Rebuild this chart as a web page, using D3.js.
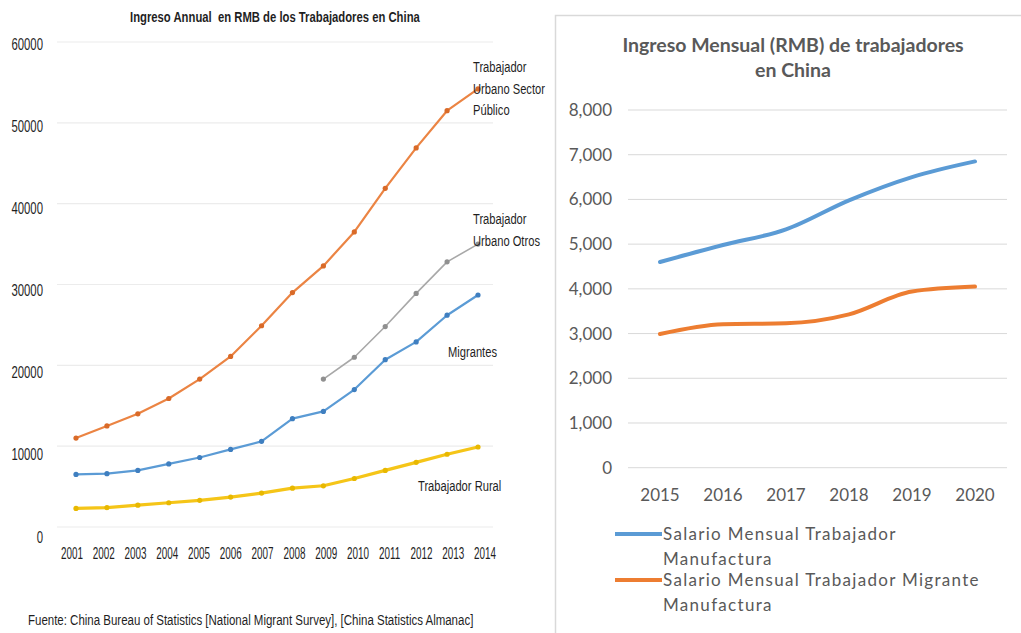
<!DOCTYPE html>
<html>
<head>
<meta charset="utf-8">
<script src="https://cdn.jsdelivr.net/npm/d3@7"></script>
<style>
  html, body { margin: 0; padding: 0; background: #fff; }
  svg { display: block; }
  .narrow { font-family: "Liberation Sans", Arial, sans-serif; }
  .cal { font-family: Lato, "Open Sans", sans-serif; }
</style>
</head>
<body>
<svg id="chart" width="1021" height="633"></svg>
<script>
// ---------- Left chart data (annual income, RMB) ----------
const years = [2001, 2002, 2003, 2004, 2005, 2006, 2007, 2008, 2009, 2010, 2011, 2012, 2013, 2014];
const urbanPublic = [11000, 12500, 14000, 15900, 18300, 21100, 24900, 29000, 32300, 36500, 41900, 46900, 51500, 54200];
const urbanOthers = [null, null, null, null, null, null, null, null, 18300, 21000, 24800, 28900, 32800, 35000];
const migrants = [6500, 6600, 7000, 7800, 8600, 9600, 10600, 13400, 14300, 17000, 20700, 22900, 26200, 28700];
const rural = [2300, 2400, 2700, 3000, 3300, 3700, 4200, 4800, 5100, 6000, 7000, 8000, 9000, 9900];
const leftTicks = [0, 10000, 20000, 30000, 40000, 50000, 60000];
const leftTitle = "Ingreso Annual  en RMB de los Trabajadores en China";
const sourceText = "Fuente: China Bureau of Statistics [National Migrant Survey], [China Statistics Almanac]";

// ---------- Right chart data (monthly income, RMB) ----------
const years2 = [2015, 2016, 2017, 2018, 2019, 2020];
const manufWage = [4600, 4980, 5330, 5980, 6500, 6850];
const migrantManufWage = [2990, 3210, 3230, 3430, 3940, 4050];
const rightTicks = [0, 1000, 2000, 3000, 4000, 5000, 6000, 7000, 8000];
const rightTitle = ["Ingreso Mensual (RMB) de trabajadores", "en China"];
const legendLabels = [
  ["Salario Mensual Trabajador", "Manufactura"],
  ["Salario Mensual Trabajador Migrante", "Manufactura"]
];

const svg = d3.select("#chart");

// condensed text helper (Arial-Narrow look)
function ntext(g, x, y, t, size, sx, anchor) {
  return g.append("text")
    .attr("transform", `translate(${x},${y}) scale(${sx},1)`)
    .attr("dy", "0.35em").attr("font-size", size)
    .attr("text-anchor", anchor || "start").attr("fill", "#1f1f1f")
    .attr("xml:space", "preserve").text(t);
}
function fitText(el, x, y, targetW) {
  const w = el.node().getComputedTextLength();
  el.attr("transform", `translate(${x},${y}) scale(${targetW / w},1)`);
}

// ================= LEFT CHART =================
const L = svg.append("g").attr("class", "narrow");
const xL = d3.scalePoint().domain(years).range([76, 478]);
const xLlab = d3.scalePoint().domain(years).range([72, 485]);
const yL = d3.scaleLinear().domain([0, 60000]).range([527, 42]);
const yLlab = d3.scaleLinear().domain([0, 60000]).range([537, 44]);

// gridlines
L.append("g").selectAll("line").data(leftTicks).join("line")
  .attr("x1", 57).attr("x2", 493)
  .attr("y1", d => yL(d)).attr("y2", d => yL(d))
  .attr("stroke", "#ececec").attr("stroke-width", 1.2);

// y labels
leftTicks.forEach(d => ntext(L, 43, yLlab(d), String(d), 16, 0.71, "end"));

// x labels
years.forEach(d => ntext(L, xLlab(d), 553, String(d), 16.5, 0.6, "middle"));

// title
const tEl = ntext(L, 130, 17, leftTitle, 15, 1, "start").attr("font-weight", "bold");
fitText(tEl, 130, 17, 290);

// source
const sEl = ntext(L, 28, 620, sourceText, 15.5, 1, "start");
fitText(sEl, 28, 620, 446);

const seriesL = [
  { vals: rural, color: "#F5C518", dot: "#E8B800", w: 3.2 },
  { vals: migrants, color: "#5B9BD5", dot: "#3F7FC0", w: 2.2 },
  { vals: urbanOthers, color: "#A8A8A8", dot: "#909090", w: 1.6 },
  { vals: urbanPublic, color: "#EB8443", dot: "#D96A28", w: 2.2 }
];
const lineL = d3.line().defined(d => d.v != null).x(d => xL(d.y)).y(d => yL(d.v));
seriesL.forEach(s => {
  const pts = years.map((y, i) => ({ y, v: s.vals[i] }));
  L.append("path").datum(pts).attr("d", lineL)
    .attr("fill", "none").attr("stroke", s.color).attr("stroke-width", s.w)
    .attr("stroke-linejoin", "round");
  L.append("g").selectAll("circle").data(pts.filter(d => d.v != null)).join("circle")
    .attr("cx", d => xL(d.y)).attr("cy", d => yL(d.v)).attr("r", 2.6)
    .attr("fill", s.dot);
});

// series annotations
const annos = [
  { lines: ["Trabajador", "Urbano Sector", "Público"], x: 473, y: 67 },
  { lines: ["Trabajador", "Urbano Otros"], x: 473, y: 219 },
  { lines: ["Migrantes"], x: 448, y: 352 },
  { lines: ["Trabajador Rural"], x: 418, y: 486 }
];
annos.forEach(a => {
  a.lines.forEach((t, i) => ntext(L, a.x, a.y + i * 21.5, t, 15.5, 0.72, "start"));
});

// ================= RIGHT CHART =================
const R = svg.append("g").attr("class", "cal");
R.append("rect").attr("x", 555.5).attr("y", 15.5).attr("width", 480).attr("height", 640)
  .attr("fill", "#fff").attr("stroke", "#d9d9d9").attr("stroke-width", 1.5);

const xR = d3.scalePoint().domain(years2).range([660, 975]);
const yR = d3.scaleLinear().domain([0, 8000]).range([467.7, 110]);

R.append("g").selectAll("line").data(rightTicks).join("line")
  .attr("x1", 628).attr("x2", 1007)
  .attr("y1", d => yR(d)).attr("y2", d => yR(d))
  .attr("stroke", "#d9d9d9").attr("stroke-width", 1);

R.append("g").selectAll("text").data(rightTicks).join("text")
  .attr("x", 612).attr("y", d => yR(d)).attr("dy", "0.35em")
  .attr("text-anchor", "end").attr("font-size", 17).attr("fill", "#595959")
  .text(d => d3.format(",")(d));

R.append("g").selectAll("text").data(years2).join("text")
  .attr("x", d => xR(d)).attr("y", 495).attr("dy", "0.35em")
  .attr("text-anchor", "middle").attr("font-size", 17).attr("fill", "#595959")
  .text(d => d);

rightTitle.forEach((t, i) => {
  R.append("text").attr("x", 793).attr("y", 45 + i * 25).attr("dy", "0.35em")
    .attr("text-anchor", "middle").attr("font-size", 19.5).attr("font-weight", "bold")
    .attr("fill", "#595959").text(t);
});

const seriesR = [
  { vals: manufWage, color: "#5B9BD5" },
  { vals: migrantManufWage, color: "#ED7D31" }
];
const lineR = d3.line().x(d => xR(d.y)).y(d => yR(d.v)).curve(d3.curveMonotoneX);
seriesR.forEach(s => {
  const pts = years2.map((y, i) => ({ y, v: s.vals[i] }));
  R.append("path").datum(pts).attr("d", lineR)
    .attr("fill", "none").attr("stroke", s.color).attr("stroke-width", 4)
    .attr("stroke-linecap", "round").attr("stroke-linejoin", "round");
});

// legend
const legY = [534, 580];
seriesR.forEach((s, i) => {
  R.append("line").attr("x1", 615).attr("x2", 662).attr("y1", legY[i]).attr("y2", legY[i])
    .attr("stroke", s.color).attr("stroke-width", 4);
  legendLabels[i].forEach((t, j) => {
    R.append("text").attr("x", 663).attr("y", legY[i] + j * 25).attr("dy", "0.35em")
      .attr("font-size", 17).attr("letter-spacing", 1.3).attr("fill", "#595959").text(t);
  });
});
</script>
</body>
</html>
